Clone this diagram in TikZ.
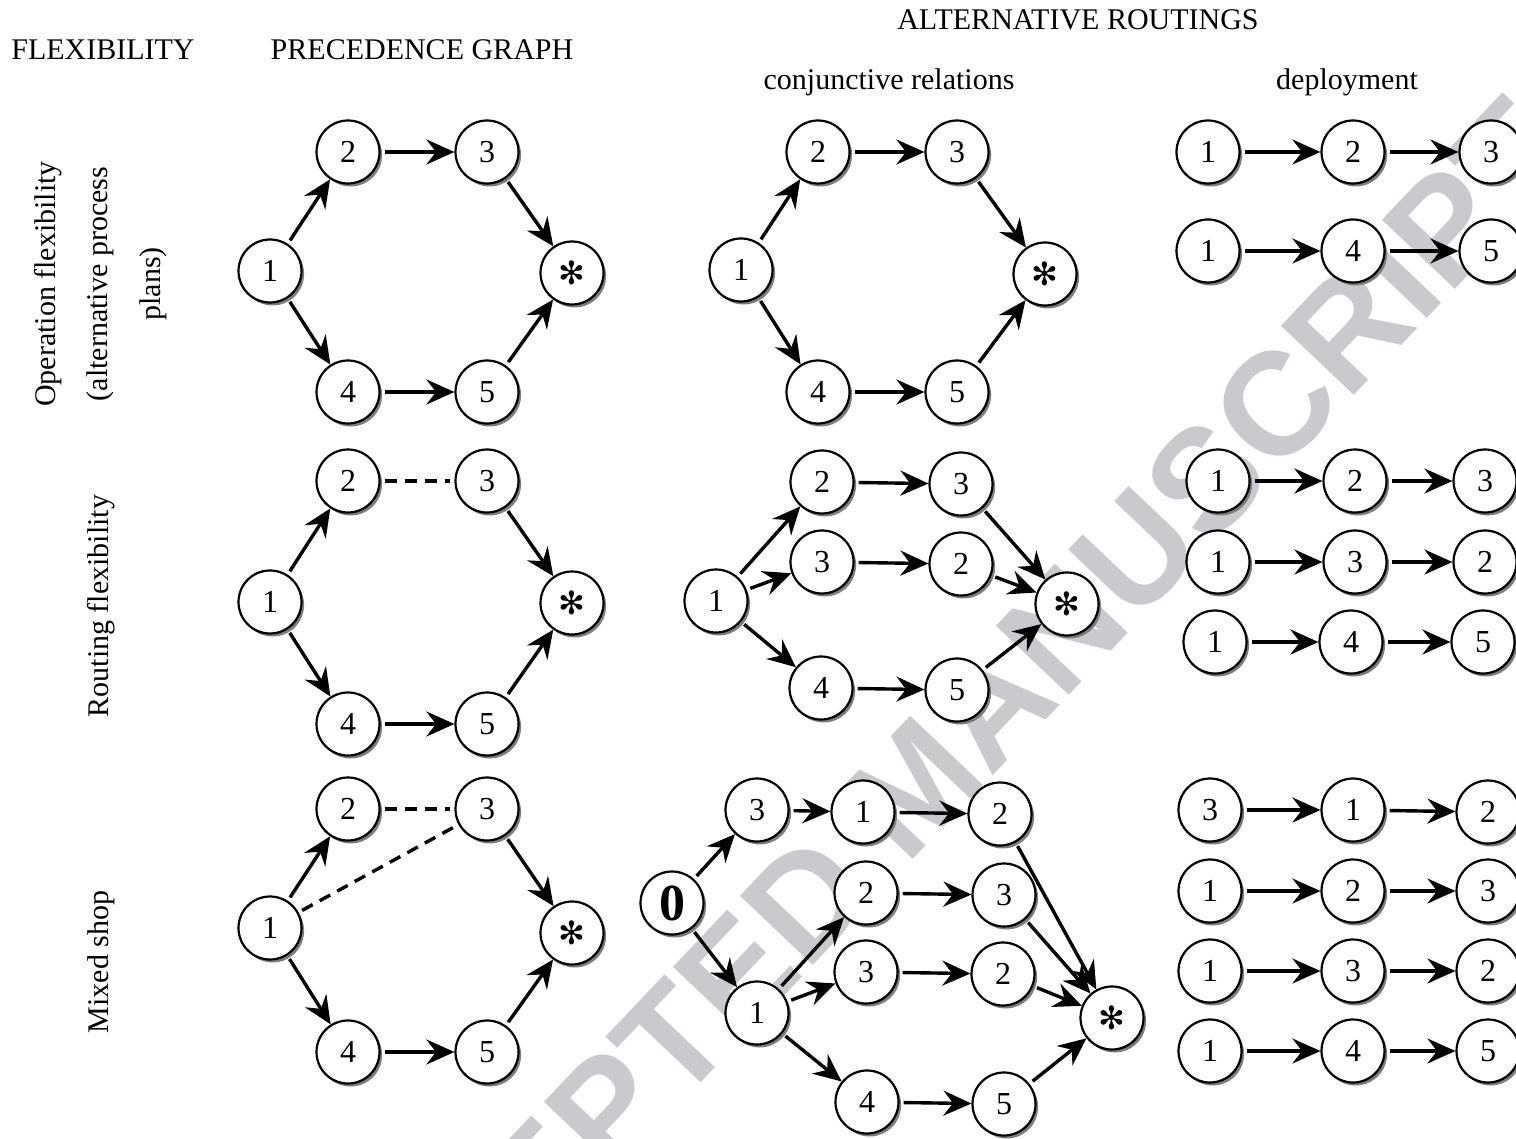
\documentclass[tikz,border=0pt]{standalone}
\usepackage{fontspec}
\setmainfont{Liberation Serif}
\newfontfamily\wmfont{Liberation Sans}
\newfontfamily\symfont{DejaVu Sans}
\usetikzlibrary{arrows.meta,shadows}
\definecolor{wm}{RGB}{200,202,206}
\definecolor{shd}{RGB}{125,125,125}
\newcommand\mystar{{\symfont\fontsize{16}{16}\selectfont ✻}}
\newcommand\bigzero{{\bfseries\fontsize{26}{26}\selectfont 0}}
\begin{document}
\begin{tikzpicture}[x=0.5pt,y=-0.5pt,
 nd/.style={circle,draw,line width=1.1pt,fill=white,minimum size=31.5pt,inner sep=0pt,
   drop shadow={shadow xshift=1.3pt,shadow yshift=-1.5pt,fill=shd,opacity=1},
   font=\fontsize{16}{18}\selectfont},
 arr/.style={-{Stealth[length=14pt,width=12.5pt,inset=4.8pt]},line width=1.7pt,shorten <=2pt},
 dsh/.style={line width=1.7pt,dash pattern=on 6pt off 4pt,shorten <=2pt,shorten >=2pt},
 hd/.style={font=\fontsize{15}{18}\selectfont,anchor=base,inner sep=0pt},
 side/.style={font=\fontsize{15}{18}\selectfont,anchor=base,inner sep=0pt,rotate=90},
]
\useasboundingbox (0,0) rectangle (1516,1139);
\begin{scope}
\clip (0,0) rectangle (1516,1139);
\node[text=wm,font=\wmfont\bfseries\fontsize{73}{80}\selectfont,rotate=46.5,inner sep=0pt] (wmk) at (915,785) {ACCEPTED MANUSCRIPT};
\end{scope}

% headers
\node[hd] (hflex) at (103,60) {FLEXIBILITY};
\node[hd] (hprec) at (422,60) {PRECEDENCE GRAPH};
\node[hd] (halt) at (1078,30) {ALTERNATIVE ROUTINGS};
\node[hd] (hconj) at (889,90) {conjunctive relations};
\node[hd] (hdep) at (1347,90) {deployment};

% side labels
\node[side] (s1a) at (55,284) {Operation flexibility};
\node[side] (s1b) at (107,284) {(alternative process};
\node[side] (s1c) at (160,284) {plans)};
\node[side] (s2) at (108,606) {Routing flexibility};
\node[side] (s3) at (108,962) {Mixed shop};

% precedence graph row A
\node[nd] (pa1) at (270,271) {1};
\node[nd] (pa2) at (348,152) {2};
\node[nd] (pa3) at (487,152) {3};
\node[nd] (pa4) at (348,392) {4};
\node[nd] (pa5) at (487,392) {5};
\node[nd] (pas) at (572,273) {\mystar};
% row B
\node[nd] (pb1) at (270,602) {1};
\node[nd] (pb2) at (348,481) {2};
\node[nd] (pb3) at (487,481) {3};
\node[nd] (pb4) at (348,724) {4};
\node[nd] (pb5) at (487,724) {5};
\node[nd] (pbs) at (572,603) {\mystar};
% row C
\node[nd] (pc1) at (270,928) {1};
\node[nd] (pc2) at (348,809) {2};
\node[nd] (pc3) at (487,809) {3};
\node[nd] (pc4) at (348,1052) {4};
\node[nd] (pc5) at (487,1052) {5};
\node[nd] (pcs) at (572,933) {\mystar};

% conjunctive row A
\node[nd] (ca1) at (741,270) {1};
\node[nd] (ca2) at (818,152) {2};
\node[nd] (ca3) at (957,152) {3};
\node[nd] (ca4) at (818,392) {4};
\node[nd] (ca5) at (957,392) {5};
\node[nd] (cas) at (1045,274) {\mystar};
% conjunctive row B
\node[nd] (cb1) at (716,601) {1};
\node[nd] (cb2) at (822,482) {2};
\node[nd] (cb3) at (961,484) {3};
\node[nd] (cb3b) at (822,562) {3};
\node[nd] (cb2b) at (961,564) {2};
\node[nd] (cb4) at (821,688) {4};
\node[nd] (cb5) at (957,690) {5};
\node[nd] (cbs) at (1067,604) {\mystar};
% conjunctive row C
\node[nd] (cc0) at (672,903) {\bigzero};
\node[nd] (cc3a) at (757,810) {3};
\node[nd] (cc1a) at (863,812) {1};
\node[nd] (cc2a) at (1000,814) {2};
\node[nd] (cc2b) at (866,893) {2};
\node[nd] (cc3b) at (1004,895) {3};
\node[nd] (cc3c) at (866,972) {3};
\node[nd] (cc2c) at (1003,974) {2};
\node[nd] (cc1b) at (757,1013) {1};
\node[nd] (ccs) at (1112,1018) {\mystar};
\node[nd] (cc4) at (867,1102) {4};
\node[nd] (cc5) at (1004,1104) {5};

% deployment A
\node[nd] (da11) at (1208,152) {1};
\node[nd] (da12) at (1353,152) {2};
\node[nd] (da13) at (1491,152) {3};
\node[nd] (da21) at (1208,251) {1};
\node[nd] (da22) at (1353,251) {4};
\node[nd] (da23) at (1491,251) {5};
% deployment B
\node[nd] (db11) at (1218,481) {1};
\node[nd] (db12) at (1355,481) {2};
\node[nd] (db13) at (1485,481) {3};
\node[nd] (db21) at (1218,562) {1};
\node[nd] (db22) at (1355,562) {3};
\node[nd] (db23) at (1485,562) {2};
\node[nd] (db31) at (1215,642) {1};
\node[nd] (db32) at (1351,642) {4};
\node[nd] (db33) at (1483,642) {5};
% deployment C
\node[nd] (dc11) at (1210,810) {3};
\node[nd] (dc12) at (1353,810) {1};
\node[nd] (dc13) at (1488,812) {2};
\node[nd] (dc21) at (1210,891) {1};
\node[nd] (dc22) at (1353,891) {2};
\node[nd] (dc23) at (1488,891) {3};
\node[nd] (dc31) at (1210,971) {1};
\node[nd] (dc32) at (1353,971) {3};
\node[nd] (dc33) at (1488,971) {2};
\node[nd] (dc41) at (1210,1051) {1};
\node[nd] (dc42) at (1353,1051) {4};
\node[nd] (dc43) at (1488,1051) {5};

% precedence arrows
\draw[arr] (pa1) -- (pa2); \draw[arr] (pa2) -- (pa3); \draw[arr] (pa3) -- (pas);
\draw[arr] (pa1) -- (pa4); \draw[arr] (pa4) -- (pa5); \draw[arr] (pa5) -- (pas);
\draw[arr] (pb1) -- (pb2); \draw[dsh] (pb2) -- (pb3); \draw[arr] (pb3) -- (pbs);
\draw[arr] (pb1) -- (pb4); \draw[arr] (pb4) -- (pb5); \draw[arr] (pb5) -- (pbs);
\draw[arr] (pc1) -- (pc2); \draw[dsh] (pc2) -- (pc3); \draw[arr] (pc3) -- (pcs);
\draw[dsh] (pc1) -- (pc3);
\draw[arr] (pc1) -- (pc4); \draw[arr] (pc4) -- (pc5); \draw[arr] (pc5) -- (pcs);

% conjunctive arrows
\draw[arr] (ca1) -- (ca2); \draw[arr] (ca2) -- (ca3); \draw[arr] (ca3) -- (cas);
\draw[arr] (ca1) -- (ca4); \draw[arr] (ca4) -- (ca5); \draw[arr] (ca5) -- (cas);
\draw[arr] (cb1) -- (cb2); \draw[arr] (cb2) -- (cb3); \draw[arr] (cb3) -- (cbs);
\draw[arr] (cb1) -- (cb3b); \draw[arr] (cb3b) -- (cb2b); \draw[arr] (cb2b) -- (cbs);
\draw[arr] (cb1) -- (cb4); \draw[arr] (cb4) -- (cb5); \draw[arr] (cb5) -- (cbs);
\draw[arr] (cc0) -- (cc3a); \draw[arr] (cc3a) -- (cc1a); \draw[arr] (cc1a) -- (cc2a); \draw[arr] (cc2a) -- (ccs);
\draw[arr] (cc0) -- (cc1b);
\draw[arr] (cc1b) -- (cc2b); \draw[arr] (cc2b) -- (cc3b); \draw[arr] (cc3b) -- (ccs);
\draw[arr] (cc1b) -- (cc3c); \draw[arr] (cc3c) -- (cc2c); \draw[arr] (cc2c) -- (ccs);
\draw[arr] (cc1b) -- (cc4); \draw[arr] (cc4) -- (cc5); \draw[arr] (cc5) -- (ccs);

% deployment arrows
\draw[arr] (da11) -- (da12); \draw[arr] (da12) -- (da13);
\draw[arr] (da21) -- (da22); \draw[arr] (da22) -- (da23);
\draw[arr] (db11) -- (db12); \draw[arr] (db12) -- (db13);
\draw[arr] (db21) -- (db22); \draw[arr] (db22) -- (db23);
\draw[arr] (db31) -- (db32); \draw[arr] (db32) -- (db33);
\draw[arr] (dc11) -- (dc12); \draw[arr] (dc12) -- (dc13);
\draw[arr] (dc21) -- (dc22); \draw[arr] (dc22) -- (dc23);
\draw[arr] (dc31) -- (dc32); \draw[arr] (dc32) -- (dc33);
\draw[arr] (dc41) -- (dc42); \draw[arr] (dc42) -- (dc43);
\end{tikzpicture}
\end{document}
